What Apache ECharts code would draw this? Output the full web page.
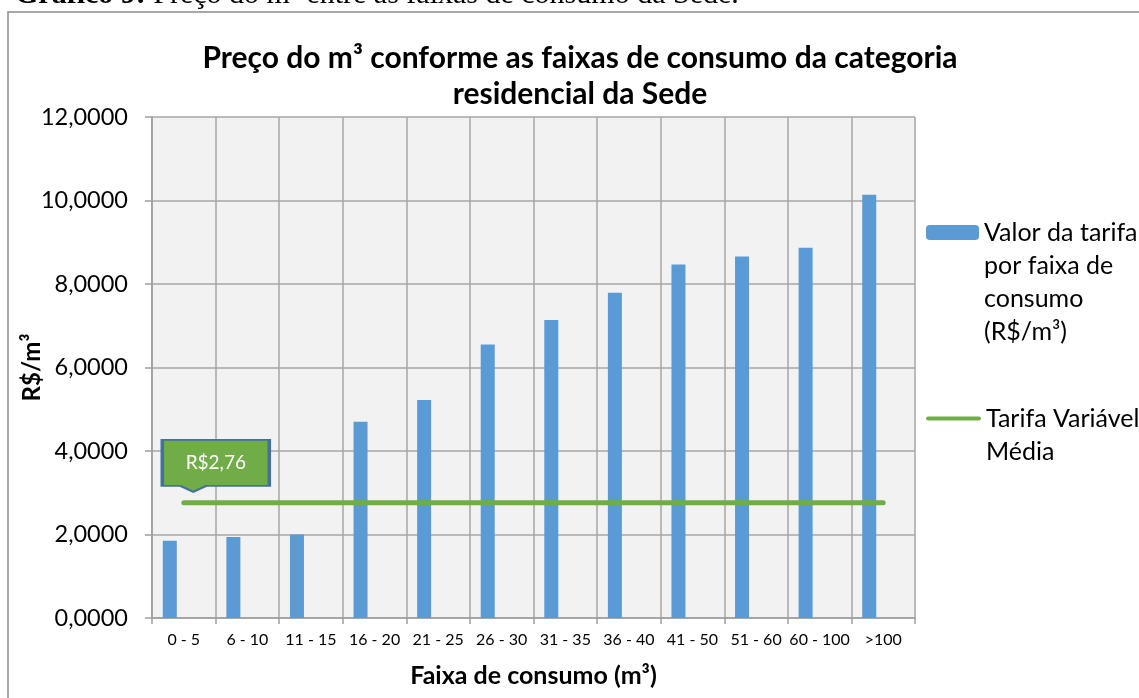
<!DOCTYPE html>
<html>
<head>
<meta charset="utf-8">
<script src="https://cdn.jsdelivr.net/npm/echarts@6/dist/echarts.min.js"></script>
<style>
  html, body { margin: 0; padding: 0; background: #fff; }
  #chart { width: 1139px; height: 698px; }
</style>
</head>
<body>
<div id="chart"></div>
<script>
// faixas de consumo (m³)
const faixas = ['0 - 5', '6 - 10', '11 - 15', '16 - 20', '21 - 25', '26 - 30',
                '31 - 35', '36 - 40', '41 - 50', '51 - 60', '60 - 100', '>100'];
// valor da tarifa por faixa (R$/m³)
const tarifa = [1.85, 1.94, 2.00, 4.70, 5.22, 6.55, 7.14, 7.79, 8.47, 8.66, 8.87, 10.14];
// tarifa variável média
const media = [2.76, 2.76, 2.76, 2.76, 2.76, 2.76, 2.76, 2.76, 2.76, 2.76, 2.76, 2.76];

const nomeBarra = 'Valor da tarifa por faixa de consumo (R$/m³)';
const nomeLinha = 'Tarifa Variável Média';
// linhas vazias antes do texto: o ícone da legenda fica alinhado com a 1ª linha
const quebras = {};
quebras[nomeBarra] = '\n\n\nValor da tarifa\npor faixa de\nconsumo\n(R$/m³)';
quebras[nomeLinha] = '\nTarifa Variável\nMédia';

const FONT = 'Lato';
const fmt = (v, d) => v.toFixed(d).replace('.', ',');

const myChart = echarts.init(document.getElementById('chart'));

const legendText = { fontFamily: FONT, fontSize: 25, color: '#000', lineHeight: 33 };

const option = {
    backgroundColor: '#fff',
    animation: false,
    title: {
        text: 'Preço do m³ conforme as faixas de consumo da categoria\nresidencial da Sede',
        left: 580,
        textAlign: 'center',
        top: 40,
        padding: 0,
        textStyle: { fontFamily: FONT, fontSize: 30, fontWeight: 'bold', color: '#000', lineHeight: 36 }
    },
    graphic: [
        {
            type: 'rect', silent: true, z: -1,
            shape: { x: 8, y: 12, width: 1200, height: 800 },
            style: { fill: 'none', stroke: '#8c8c8c', lineWidth: 1.5 }
        },
        {
            type: 'text', silent: true,
            style: {
                x: 15, y: -5, verticalAlign: 'middle',
                text: '{b|Gráfico 9:} Preço do m³ entre as faixas de consumo da Sede.',
                font: '30px "Liberation Serif"', fill: '#000',
                rich: { b: { fontFamily: 'Liberation Serif', fontSize: 30, fontWeight: 'bold' } }
            }
        }
    ],
    legend: [
        {
            data: [nomeBarra],
            left: 926, top: 117, padding: 0,
            itemWidth: 53, itemHeight: 15,
            formatter: n => quebras[n],
            textStyle: legendText
        },
        {
            data: [{ name: nomeLinha, icon: 'path://M2,0 L51,0 A2,2 0 0 1 51,4 L2,4 A2,2 0 0 1 2,0 Z' }],
            left: 926, top: 369, padding: 0,
            itemWidth: 55, itemHeight: 5,
            formatter: n => quebras[n],
            textStyle: legendText
        }
    ],
    grid: {
        left: 152, right: 224, top: 117, bottom: 80,
        outerBoundsMode: 'none',
        show: true, backgroundColor: '#f2f2f2', borderWidth: 0
    },
    xAxis: {
        type: 'category',
        data: faixas,
        name: 'Faixa de consumo (m³)',
        nameLocation: 'middle',
        nameGap: 45,
        nameTextStyle: { fontFamily: FONT, fontSize: 25, fontWeight: 'bold', color: '#000' },
        axisLine: { lineStyle: { color: '#9e9e9e', width: 1.5 } },
        axisTick: { show: true, interval: 0, length: 6, lineStyle: { color: '#9e9e9e', width: 1.5 } },
        axisLabel: { interval: 0, margin: 14, fontFamily: FONT, fontSize: 16, color: '#000' },
        splitLine: { show: true, interval: 0, lineStyle: { color: '#a6a6a6', width: 1.5 } }
    },
    yAxis: {
        type: 'value',
        min: 0, max: 12, interval: 2,
        name: 'R$/m³',
        nameLocation: 'middle',
        nameGap: 108,
        nameMoveOverlap: false,
        nameTextStyle: { fontFamily: FONT, fontSize: 24, fontWeight: 'bold', color: '#000' },
        axisLine: { show: true, lineStyle: { color: '#9e9e9e', width: 1.5 } },
        axisTick: { show: true, length: 7, lineStyle: { color: '#9e9e9e', width: 1.5 } },
        axisLabel: {
            margin: 24, fontFamily: FONT, fontSize: 23.5, color: '#000',
            formatter: v => fmt(v, 4)
        },
        splitLine: { show: true, lineStyle: { color: '#a6a6a6', width: 1.5 } }
    },
    series: [
        {
            name: nomeBarra,
            type: 'bar',
            data: tarifa,
            barWidth: 14,
            barGap: '100%',
            itemStyle: { color: '#5b9bd5' }
        },
        {
            name: 'vazio',
            type: 'bar',
            data: faixas.map(() => null),
            barWidth: 14
        },
        {
            name: nomeLinha,
            type: 'line',
            data: media,
            symbol: 'none',
            lineStyle: { color: '#70ad47', width: 5, cap: 'round' },
            itemStyle: { color: '#70ad47' },
            z: 5,
            markPoint: {
                symbol: 'path://M0,0 L107,0 L107,46 L44,46 L31,52 L18,46 L0,46 Z',
                symbolSize: [107, 52],
                symbolOffset: [32, -37],
                itemStyle: { color: '#70ad47', borderColor: '#41719c', borderWidth: 2.5 },
                label: {
                    show: true, position: 'inside', offset: [0, -3],
                    fontFamily: FONT, fontSize: 19, color: '#fff',
                    formatter: p => 'R$' + fmt(p.value, 2)
                },
                data: [{ coord: [faixas[0], media[0]], value: media[0] }]
            }
        }
    ]
};

myChart.setOption(option);
</script>
</body>
</html>
